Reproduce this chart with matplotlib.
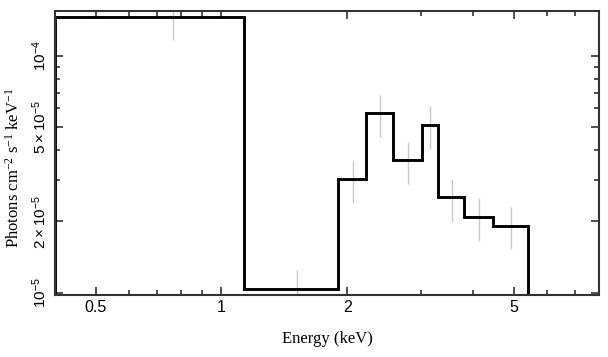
import numpy as np
import matplotlib
matplotlib.use("Agg")
import matplotlib.pyplot as plt
from matplotlib.ticker import FixedLocator, NullFormatter

# bin edges (keV) and unfolded flux per bin
edges = [0.4, 1.13, 1.9, 2.22, 2.576, 3.017, 3.294, 3.81, 4.47, 5.41]
flux = [1.46e-4, 1.04e-5, 3.01e-5, 5.71e-5, 3.63e-5, 5.12e-5, 2.53e-5, 2.09e-5, 1.92e-5]
err_lo = [1.165e-4, 0.84e-5, 2.40e-5, 4.55e-5, 2.87e-5, 4.05e-5, 2.01e-5, 1.66e-5, 1.53e-5]
err_hi = [1.75e-4, 1.245e-5, 3.63e-5, 6.85e-5, 4.32e-5, 6.13e-5, 3.01e-5, 2.52e-5, 2.31e-5]

xticks = [0.5, 1, 2, 5]
xticklabels = ["0.5", "1", "2", "5"]
yticks = [1e-5, 2e-5, 5e-5, 1e-4]
yticklabels = [r"$\mathregular{10^{-5}}$", r"$\mathregular{2\times10^{-5}}$",
               r"$\mathregular{5\times10^{-5}}$", r"$\mathregular{10^{-4}}$"]

sans = "Liberation Sans"
serif = "Liberation Serif"

fig = plt.figure(figsize=(6.08, 3.57), dpi=100)
ax = fig.add_axes([55/608, 1-294.7/357, (599-55)/608, (294.7-11)/357])

e = np.array(edges)
mid = 0.5*(e[:-1] + e[1:])
ax.vlines(mid, err_lo, err_hi, color="#c8c8c8", lw=1, zorder=1)
ax.stairs(flux, edges, baseline=1e-6, color="black", lw=2.1, zorder=2)

ax.set_xscale("log")
ax.set_yscale("log")
ax.set_xlim(0.4, 8.0)
ax.set_ylim(0.982e-5, 1.545e-4)

ax.xaxis.set_major_locator(FixedLocator(xticks))
ax.set_xticklabels(xticklabels, fontfamily=sans, fontsize=11.5)
ax.xaxis.set_minor_locator(FixedLocator([0.6, 0.7, 0.8, 0.9, 3, 4, 6, 7, 8]))
ax.xaxis.set_minor_formatter(NullFormatter())

ax.yaxis.set_major_locator(FixedLocator(yticks))
ax.set_yticklabels(yticklabels, fontfamily=sans, fontsize=11, rotation=90, va="center")
ax.yaxis.set_minor_locator(FixedLocator([3e-5, 4e-5, 6e-5, 7e-5, 8e-5, 9e-5]))
ax.yaxis.set_minor_formatter(NullFormatter())

ax.tick_params(which="both", direction="in", top=True, right=True, width=1.2, color="#333333")
ax.tick_params(which="major", length=6, pad=4)
ax.tick_params(which="minor", length=3.5)
for s in ax.spines.values():
    s.set_linewidth(1.5)
    s.set_color("#333333")

ax.set_xlabel("Energy (keV)", fontfamily=serif, fontsize=12, labelpad=11)
ax.set_ylabel(r"Photons cm$\mathregular{^{-2}}$ s$\mathregular{^{-1}}$ keV$\mathregular{^{-1}}$",
              fontfamily=serif, fontsize=12, labelpad=5)
ax.yaxis.set_label_coords(-0.0595, 0.447)

fig.savefig("out.png", dpi=100)
